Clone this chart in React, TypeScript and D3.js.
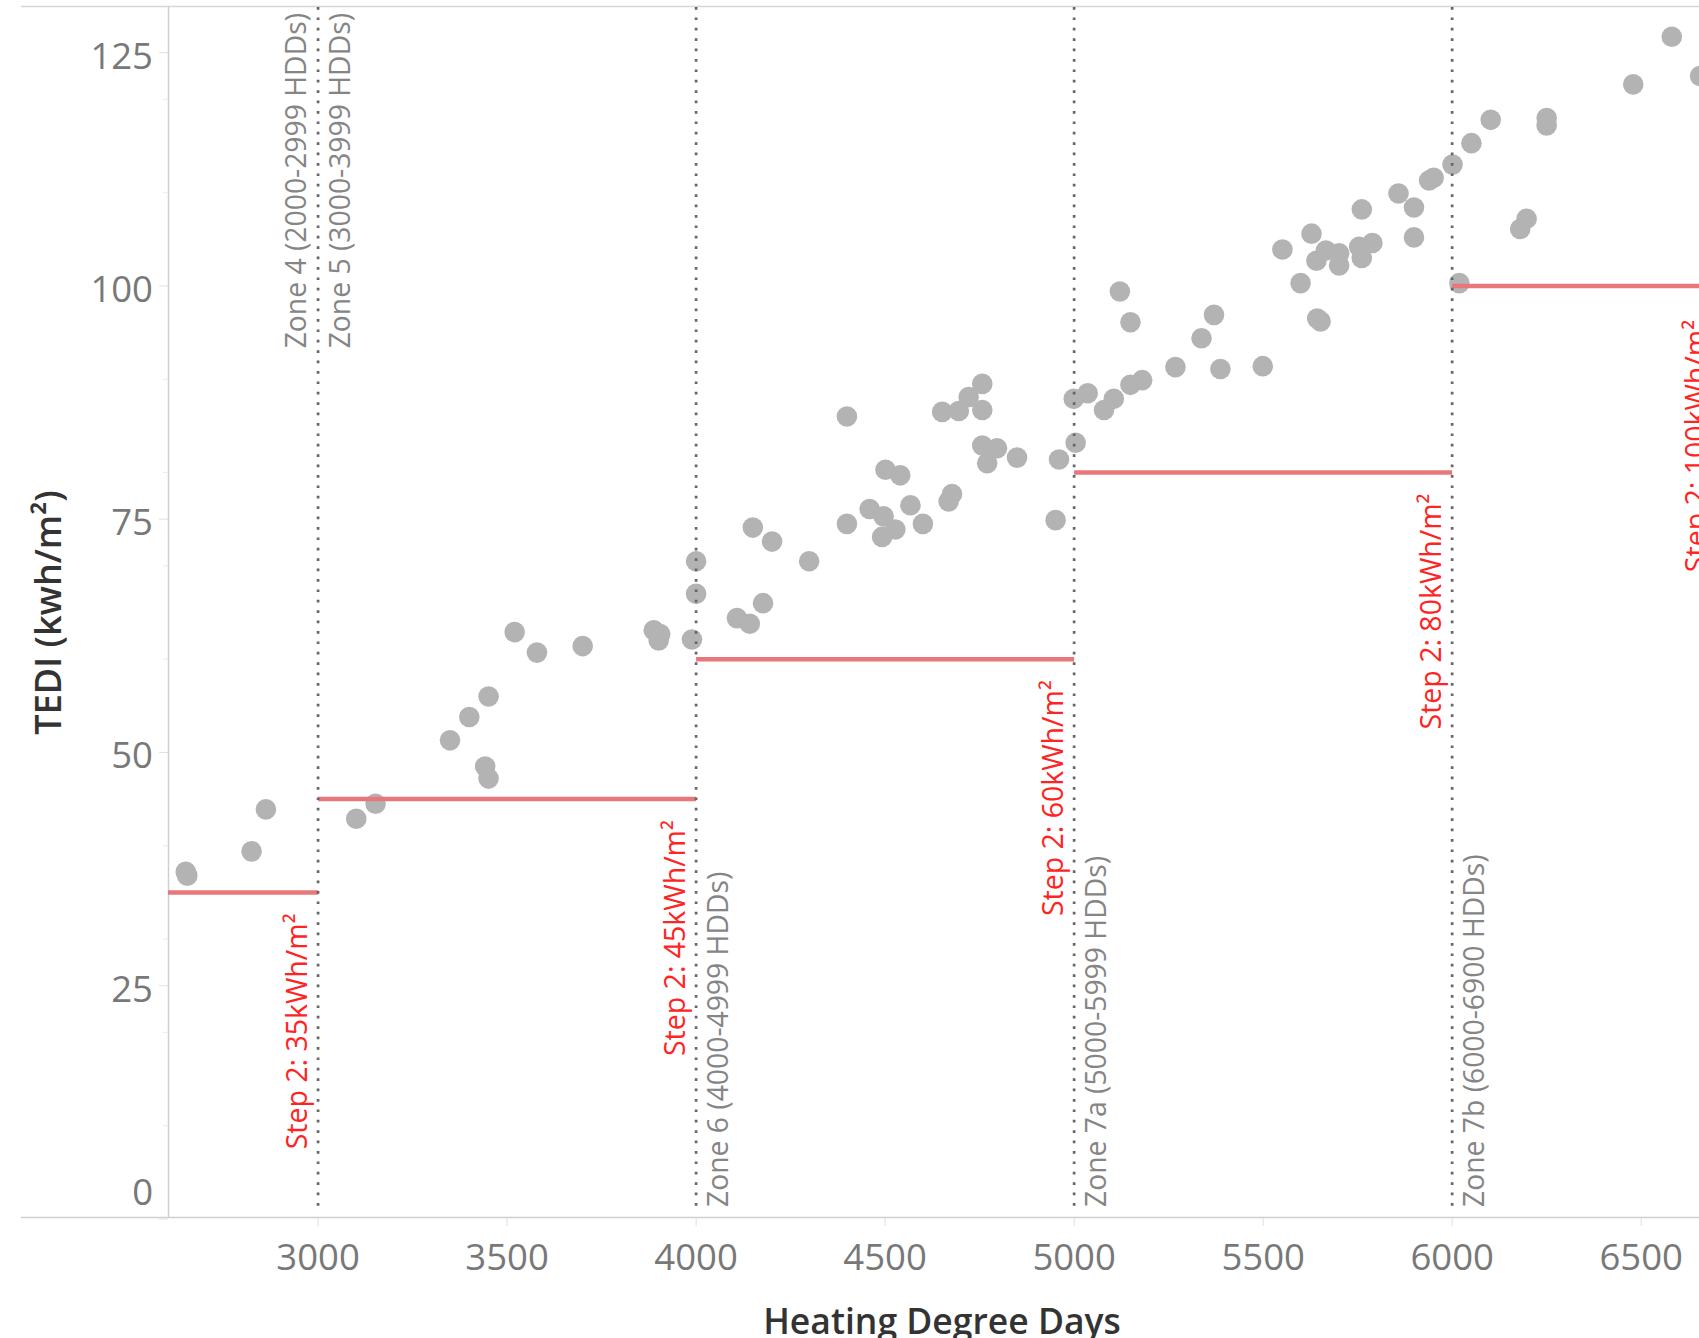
import React from "react";
import * as d3 from "d3";

// heating degree days (x) and TEDI (y)
const hdd = [
  2650, 2654, 2824, 2862,
  3101, 3152, 3349, 3400, 3451, 3442, 3451, 3520, 3579, 3700, 3888, 3905, 3901, 3989,
  4000, 4000, 4108, 4142, 4177, 4150, 4201, 4299, 4399, 4399, 4459, 4496, 4492, 4527,
  4501, 4540, 4567, 4600, 4668, 4677, 4651, 4695, 4721, 4757, 4757, 4757, 4796, 4770,
  4849, 4960, 4951, 5004, 4999,
  5036, 5079, 5105, 5121, 5149, 5149, 5180, 5268, 5337, 5370, 5387, 5499, 5551, 5599,
  5628, 5641, 5643, 5652, 5666, 5701, 5701, 5754, 5761, 5761, 5789, 5858, 5899, 5899,
  5939, 5951, 6001, 6019,
  6051, 6102, 6180, 6197, 6250, 6250, 6479, 6581, 6656,
];
const tedi = [
  37.2, 36.8, 39.4, 43.9,
  42.9, 44.5, 51.3, 53.8, 56.0, 48.5, 47.2, 62.9, 60.7, 61.4, 63.1, 62.7, 62.0, 62.1,
  70.5, 67.0, 64.4, 63.8, 66.0, 74.1, 72.6, 70.5, 74.5, 86.0, 76.1, 75.3, 73.1, 73.9,
  80.3, 79.7, 76.5, 74.5, 76.9, 77.7, 86.5, 86.6, 88.1, 89.5, 86.7, 82.9, 82.6, 81.0,
  81.6, 81.4, 74.9, 83.2, 87.9,
  88.5, 86.7, 87.9, 99.4, 96.1, 89.4, 89.9, 91.3, 94.4, 96.9, 91.1, 91.4, 103.9, 100.3,
  105.6, 102.7, 96.5, 96.2, 103.8, 103.5, 102.2, 104.2, 103.0, 108.2, 104.6, 109.9, 108.4, 105.2,
  111.3, 111.6, 113.0, 100.3,
  115.3, 117.8, 106.1, 107.2, 118.0, 117.2, 121.6, 126.7, 122.5,
];

// climate zone boundaries
const zoneLine = [3000, 3000, 4000, 5000, 6000];
const zoneText = [
  "Zone 4 (2000-2999 HDDs)",
  "Zone 5 (3000-3999 HDDs)",
  "Zone 6 (4000-4999 HDDs)",
  "Zone 7a (5000-5999 HDDs)",
  "Zone 7b (6000-6900 HDDs)",
];
const zoneSide = ["left", "right", "right", "right", "right"];
const zoneAtTop = [true, true, false, false, false];

// step 2 TEDI targets
const stepFrom = [2603, 3000, 4000, 5000, 6000];
const stepTo = [3000, 4000, 5000, 6000, 6700];
const stepValue = [35, 45, 60, 80, 100];
const stepText = [
  "Step 2: 35kWh/m²",
  "Step 2: 45kWh/m²",
  "Step 2: 60kWh/m²",
  "Step 2: 80kWh/m²",
  "Step 2: 100kWh/m²",
];

const xTicks = [3000, 3500, 4000, 4500, 5000, 5500, 6000, 6500];
const yTicks = [0, 25, 50, 75, 100, 125];
const yMinor = [10, 20, 30, 40, 60, 70, 80, 90, 110, 120];

const W = 1699;
const H = 1338;
const FONT = "'Open Sans', 'Noto Sans', sans-serif";

export default function App() {
  const x = d3.scaleLinear().domain([2603, 6653]).range([168, 1699]);
  const y = d3.scaleLinear().domain([0, 130]).range([1219, 6]);
  const pts = hdd.map((h, i) => ({ h, t: tedi[i] }));

  return (
    <svg
      width={W}
      height={H}
      style={{ position: "absolute", left: 0, top: 0, background: "#fff" }}
      fontFamily={FONT}
    >
      {/* frame */}
      <line x1={21} x2={W} y1={6.5} y2={6.5} stroke="#d6d6d6" strokeWidth={1.5} />
      <line x1={21} x2={W} y1={1217.5} y2={1217.5} stroke="#d0d0d0" strokeWidth={1.5} />
      <line x1={168.5} x2={168.5} y1={6} y2={1218} stroke="#d0d0d0" strokeWidth={1.5} />

      {/* y ticks */}
      {yMinor.map((v) => (
        <line key={"m" + v} x1={163} x2={168} y1={y(v)} y2={y(v)} stroke="#ececec" />
      ))}
      {yTicks.map((v) => (
        <g key={"y" + v}>
          <line x1={159} x2={168} y1={y(v)} y2={y(v)} stroke="#e0e0e0" />
          <text
            x={153}
            y={v === 0 ? y(v) - 14 : y(v) + 16}
            textAnchor="end"
            fontSize={36.5}
            fill="#787878"
          >
            {v}
          </text>
        </g>
      ))}

      {/* x ticks */}
      {xTicks.map((v) => (
        <g key={"x" + v}>
          <line x1={x(v)} x2={x(v)} y1={1218} y2={1226} stroke="#e0e0e0" />
          <text x={x(v)} y={1270} textAnchor="middle" fontSize={36.5} fill="#787878">
            {v}
          </text>
        </g>
      ))}

      {/* points */}
      {pts.map((p, i) => (
        <circle key={i} cx={x(p.h)} cy={y(p.t)} r={10.3} fill="#b3b3b3" />
      ))}

      {/* step targets */}
      {stepValue.map((v, i) => (
        <line
          key={"s" + i}
          x1={x(stepFrom[i])}
          x2={x(stepTo[i])}
          y1={y(v)}
          y2={y(v)}
          stroke="#e8777b"
          strokeWidth={4.5}
        />
      ))}

      {/* zone boundaries */}
      {[3000, 4000, 5000, 6000].map((v) => (
        <line
          key={"z" + v}
          x1={x(v)}
          x2={x(v)}
          y1={7}
          y2={1209}
          stroke="#666"
          strokeWidth={2.7}
          strokeDasharray="2.7 7.7"
        />
      ))}

      {/* zone labels */}
      {zoneText.map((t, i) => {
        const bx = zoneSide[i] === "left" ? x(zoneLine[i]) - 12 : x(zoneLine[i]) + 32;
        const by = zoneAtTop[i] ? 13 : 1207;
        return (
          <text
            key={"zt" + i}
            transform={`translate(${bx},${by}) rotate(-90)`}
            textAnchor={zoneAtTop[i] ? "end" : "start"}
            fontSize={28.3}
            fill="#858585"
          >
            {t}
          </text>
        );
      })}

      {/* step labels */}
      {stepText.map((t, i) => {
        const bx = x(stepTo[i]) - 11;
        const by = y(stepValue[i]) + (i === 4 ? 34 : 21);
        return (
          <text
            key={"st" + i}
            transform={`translate(${bx},${by}) rotate(-90)`}
            textAnchor="end"
            fontSize={28.5}
            fill="#ff2424"
          >
            {t}
          </text>
        );
      })}

      {/* axis titles */}
      <text
        x={942}
        y={1334}
        textAnchor="middle"
        fontSize={35.5}
        fontWeight={600}
        fill="#333"
      >
        Heating Degree Days
      </text>
      <text
        transform={`translate(61,${(y(0) + y(130)) / 2}) rotate(-90)`}
        textAnchor="middle"
        fontSize={36}
        fontWeight={600}
        fill="#333"
      >
        TEDI (kwh/m²)
      </text>
    </svg>
  );
}
